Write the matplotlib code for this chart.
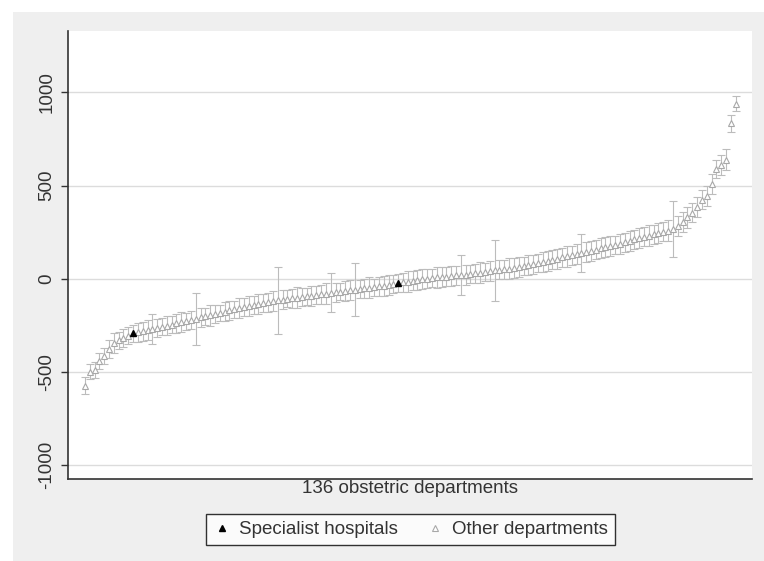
import matplotlib.pyplot as plt
from matplotlib.patches import Rectangle
from matplotlib.lines import Line2D

plt.rcParams['font.family'] = ['Liberation Sans', 'DejaVu Sans']

# department estimates, sorted (136 obstetric departments)
estimates = [
    -575, -500, -490, -440, -415, -375, -345, -330, -318, -305,
    -293, -288, -282, -276, -270, -265, -258, -252, -246, -240,
    -234, -228, -222, -215, -208, -202, -196, -190, -184, -177,
    -170, -163, -157, -151, -146, -141, -136, -131, -126, -121,
    -116, -112, -108, -105, -101, -98, -94, -91, -88, -84,
    -80, -76, -73, -70, -66, -62, -58, -55, -51, -48,
    -45, -41, -37, -33, -28, -23, -19, -15, -10, -5,
    -2, 1, 4, 7, 10, 12, 15, 18, 20, 22,
    25, 29, 33, 36, 40, 45, 48, 51, 55, 58,
    63, 68, 73, 78, 85, 90, 96, 102, 108, 115,
    120, 126, 132, 138, 144, 150, 157, 163, 170, 176,
    182, 188, 196, 204, 212, 220, 226, 232, 238, 245,
    252, 258, 268, 285, 305, 330, 355, 385, 425, 445,
    510, 590, 610, 640, 835, 940,
]
# half-width of the error bars
errors = [
    45, 40, 45, 44, 42, 48, 52, 46, 50, 44,
    46, 52, 50, 55, 80, 50, 46, 52, 44, 50,
    54, 46, 50, 140, 52, 46, 55, 50, 44, 52,
    50, 46, 54, 50, 52, 46, 55, 50, 52, 54,
    180, 50, 46, 52, 55, 50, 46, 54, 50, 52,
    55, 105, 50, 46, 52, 54, 140, 50, 52, 55,
    46, 50, 54, 52, 50, 46, 52, 55, 50, 54,
    52, 50, 46, 54, 52, 50, 55, 52, 105, 54,
    50, 52, 55, 50, 54, 165, 52, 50, 55, 52,
    54, 50, 55, 52, 50, 54, 55, 52, 54, 50,
    55, 52, 54, 100, 52, 55, 50, 54, 52, 55,
    50, 54, 52, 55, 50, 54, 52, 55, 50, 54,
    52, 55, 150, 54, 52, 55, 50, 54, 52, 55,
    54, 50, 52, 55, 45, 40,
]
specialist_idx = [11, 66]

dept = list(range(1, len(estimates) + 1))
other = [i for i in dept if i not in specialist_idx]

fig = plt.figure(figsize=(7.64, 5.61), dpi=100, facecolor='white')
fig.patches.append(Rectangle((13 / 764, 0), 1, (561 - 12) / 561, transform=fig.transFigure,
                             facecolor='#efefef', edgecolor='none', zorder=-10))
ax = fig.add_axes([68 / 764, (561 - 479) / 561, (752 - 68) / 764, (479 - 31) / 561])
ax.set_facecolor('white')

ax.errorbar(dept, estimates, yerr=errors, fmt='none', ecolor='#bcbcbc', elinewidth=0.8,
            capsize=3, capthick=0.8, zorder=2)
ax.plot(other, [estimates[i - 1] for i in other], linestyle='none', marker='^', markersize=4.5,
        markerfacecolor='white', markeredgecolor='#a8a8a8', markeredgewidth=0.8, zorder=3)
ax.plot(specialist_idx, [estimates[i - 1] for i in specialist_idx], linestyle='none', marker='^',
        markersize=5, color='black', zorder=4)

ax.set_xlim(-2.5, 139.4)
ax.set_ylim(-1075, 1330)
ax.set_yticks([-1000, -500, 0, 500, 1000])
ax.set_yticklabels(['-1000', '-500', '0', '500', '1000'], rotation=90, va='center',
                   fontsize=13.5, color='#333333')
ax.yaxis.grid(True, color='#dcdcdc', linewidth=1)
ax.set_axisbelow(True)
ax.set_xticks([])
ax.tick_params(axis='y', length=5, width=1, color='#333333', pad=4)
for s in ['top', 'right']:
    ax.spines[s].set_visible(False)
for s in ['left', 'bottom']:
    ax.spines[s].set_color('#333333')
    ax.spines[s].set_linewidth(1.2)
ax.set_xlabel('136 obstetric departments', fontsize=13.5, labelpad=1, color='#333333')

handles = [
    Line2D([], [], linestyle='none', marker='^', markersize=5, color='black'),
    Line2D([], [], linestyle='none', marker='^', markersize=4, markerfacecolor='white',
           markeredgecolor='#a8a8a8', markeredgewidth=0.8),
]
leg = fig.legend(handles, ['Specialist hospitals', 'Other departments'], ncol=2,
                 loc='center', bbox_to_anchor=(410.5 / 764, (561 - 529.5) / 561),
                 fontsize=13.5, frameon=True, fancybox=False, edgecolor='black',
                 handlelength=1.0, handletextpad=0.4, columnspacing=1.5, borderpad=0.35,
                 labelcolor='#333333')
leg.get_frame().set_linewidth(1.0)

fig.savefig('out.png', dpi=100, facecolor=fig.get_facecolor())
